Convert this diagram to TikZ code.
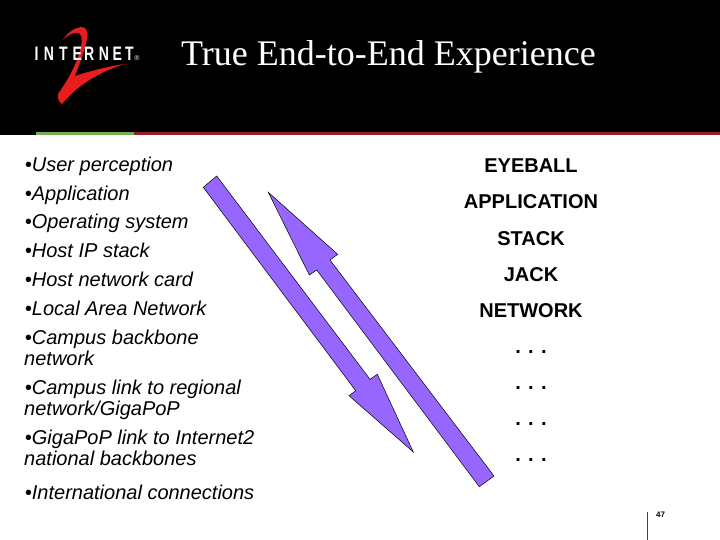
\documentclass[tikz,border=0pt]{standalone}
\usepackage{fontspec}
\setmainfont{Liberation Sans}
\newfontfamily\titlefont{Liberation Serif}
\usetikzlibrary{positioning,calc}
\definecolor{arrowviolet}{RGB}{150,102,255}
\definecolor{linered}{RGB}{150,30,40}
\definecolor{linegreen}{RGB}{120,175,85}
\definecolor{logored}{RGB}{230,30,30}
\tikzset{
  bullet/.style={anchor=base west,inner sep=0pt,font=\fontsize{20}{22}\selectfont\itshape,align=left},
  layer/.style={anchor=base,inner sep=0pt,font=\fontsize{20}{22}\selectfont\bfseries},
  logoletter/.style={anchor=base,inner sep=0pt,text=white,xscale=0.72,transform shape,font=\fontsize{19.5}{20}\selectfont\bfseries},
  flow/.style={draw=black,line width=0.5pt,fill=arrowviolet}
}
\begin{document}
\begin{tikzpicture}[x=1pt,y=-1pt]
\useasboundingbox (0,0) rectangle (720,540);
%header
\fill[black] (0,0) rectangle (720,135);
\fill[linered] (134,132.5) rectangle (720,135);
\fill[linegreen] (36,132.5) rectangle (134,135);
%logo
\fill[logored] (63,40) .. controls (67,33) and (74,28) .. (81,27)
  .. controls (88,27) and (89,35) .. (85,47)
  .. controls (83,55) and (79,65) .. (75,76)
  .. controls (90,71) and (110,66) .. (125,64)
  .. controls (105,70) and (80,82) .. (62,104)
  .. controls (59,102) and (57,98) .. (58,94)
  .. controls (68,80) and (78,62) .. (81,46)
  .. controls (83,37) and (81,32) .. (76,33)
  .. controls (71,33) and (67,36) .. (63,40) -- cycle;
\foreach \letter/\xpos [count=\i] in {I/36.7,N/49,T/63.3,E/77.3,R/89.3,N/104,E/117.3,T/129.3}
  \node[logoletter] (logo\i) at (\xpos,61) {\letter};
\node[inner sep=0pt,text=white,font=\fontsize{7}{7}\selectfont] (logomark) at (137,58.5) {\textregistered};
%title
\node[anchor=base west,inner sep=0pt,text=white,font=\titlefont\fontsize{36}{36}\selectfont] (title) at (181,66) {True End-to-End Experience};
%left list
\node[bullet] (perception) at (24.7,171.5) {•User perception};
\node[bullet] (application) at (24.7,200.5) {•Application};
\node[bullet] (os) at (24.7,228.5) {•Operating system};
\node[bullet] (ipstack) at (24.7,257) {•Host IP stack};
\node[bullet] (card) at (24.7,286) {•Host network card};
\node[bullet] (lan) at (24.7,315) {•Local Area Network};
\node[bullet] (backbone) at (24.7,344) {•Campus backbone};
\node[bullet] (backbonetwo) at (24,365) {network};
\node[bullet] (link) at (24.7,394) {•Campus link to regional};
\node[bullet] (linktwo) at (24,415) {network/GigaPoP};
\node[bullet] (gigapop) at (24.7,444) {•GigaPoP link to Internet2};
\node[bullet] (gigapoptwo) at (24,465.5) {national backbones};
\node[bullet] (international) at (24.7,499.5) {•International connections};
%right list
\node[layer] (eyeball) at (531,173) {EYEBALL};
\node[layer] (app) at (531,209) {APPLICATION};
\node[layer] (stack) at (531,245) {STACK};
\node[layer] (jack) at (531,281) {JACK};
\node[layer] (network) at (531,317) {NETWORK};
\node[layer] (dotsa) at (531,353) {. . .};
\node[layer] (dotsb) at (531,389) {. . .};
\node[layer] (dotsc) at (531,425) {. . .};
\node[layer] (dotsd) at (531,461) {. . .};
%arrows
\draw[flow] (203.3,187.3) -- (216.7,176) -- (370,379.3) -- (377.3,374.3) -- (413.3,452) -- (349,395.7) -- (355.7,390.7) -- cycle;
\draw[flow] (268.3,192.3) -- (337.7,254.3) -- (330,260) -- (494,476) -- (479.3,486.7) -- (316.7,270) -- (309.3,275) -- cycle;
%page number
\fill[linered] (646.5,512) rectangle (647.8,540);
\node[anchor=base west,inner sep=0pt,font=\fontsize{8}{8}\selectfont\bfseries] (pagenum) at (656,517) {47};
\end{tikzpicture}
\end{document}
